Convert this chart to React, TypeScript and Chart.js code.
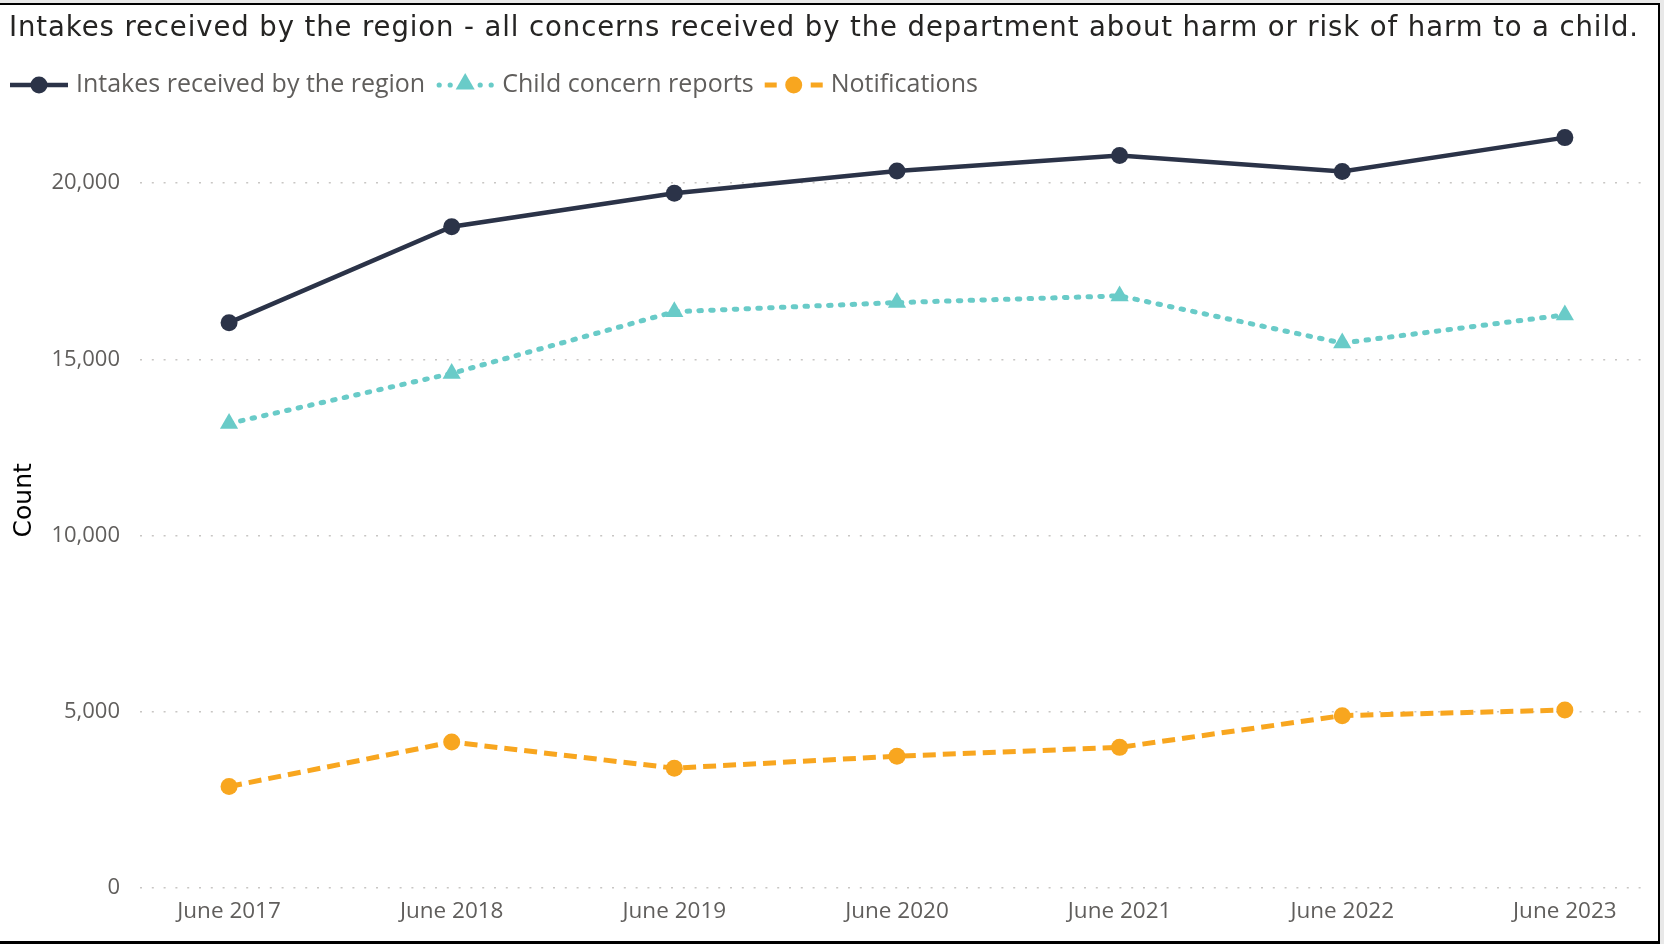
import React, { useEffect, useRef } from "react";
import { Chart, registerables } from "chart.js";

Chart.register(...registerables);

const TITLE =
  "Intakes received by the region - all concerns received by the department about harm or risk of harm to a child.";
const categories = ["June 2017", "June 2018", "June 2019", "June 2020", "June 2021", "June 2022", "June 2023"];
const seriesNames = ["Intakes received by the region", "Child concern reports", "Notifications"];
const intakes = [16040, 18760, 19710, 20340, 20780, 20330, 21290];
const childConcernReports = [13180, 14600, 16350, 16610, 16800, 15460, 16260];
const notifications = [2880, 4140, 3400, 3740, 3990, 4890, 5050];
const yTickValues = [0, 5000, 10000, 15000, 20000];
const yAxisTitle = "Count";

const NAVY = "#2B3348";
const TEAL = "#69CBC8";
const ORANGE = "#F8A61F";
const TICK_COLOR = "#605E5C";
const W = 1658;
const H = 936;

function drawTriangle(ctx: CanvasRenderingContext2D, x: number, y: number, r: number, color: string) {
  ctx.beginPath();
  ctx.moveTo(x, y - r);
  ctx.lineTo(x + r * 0.866, y + r * 0.5);
  ctx.lineTo(x - r * 0.866, y + r * 0.5);
  ctx.closePath();
  ctx.fillStyle = color;
  ctx.fill();
}

function drawSymbol(ctx: CanvasRenderingContext2D, kind: number, x: number, y: number) {
  const w = 58;
  const cx = x + w / 2;
  ctx.save();
  if (kind === 0) {
    ctx.strokeStyle = NAVY;
    ctx.lineWidth = 4.5;
    ctx.beginPath();
    ctx.moveTo(x, y);
    ctx.lineTo(x + w, y);
    ctx.stroke();
    ctx.fillStyle = NAVY;
    ctx.beginPath();
    ctx.arc(cx, y, 8.5, 0, Math.PI * 2);
    ctx.fill();
  } else if (kind === 1) {
    ctx.fillStyle = TEAL;
    [x + 3, x + 14, x + w - 14, x + w - 3].forEach((dx) => {
      ctx.beginPath();
      ctx.arc(dx, y, 2.6, 0, Math.PI * 2);
      ctx.fill();
    });
    drawTriangle(ctx, cx, y - 1, 11, TEAL);
  } else {
    ctx.strokeStyle = ORANGE;
    ctx.lineWidth = 5;
    ctx.beginPath();
    ctx.moveTo(x, y);
    ctx.lineTo(x + 12, y);
    ctx.moveTo(x + w - 12, y);
    ctx.lineTo(x + w, y);
    ctx.stroke();
    ctx.fillStyle = ORANGE;
    ctx.beginPath();
    ctx.arc(cx, y, 8.5, 0, Math.PI * 2);
    ctx.fill();
  }
  ctx.restore();
}

const headerPlugin = {
  id: "header",
  afterDraw(chart: any) {
    const ctx: any = chart.ctx;
    ctx.save();
    // Title
    ctx.font = "27.5px 'DejaVu Sans'";
    ctx.fillStyle = "#252423";
    ctx.textAlign = "left";
    ctx.textBaseline = "alphabetic";
    const target = 1629;
    const natural = ctx.measureText(TITLE).width;
    const spacing = Math.max(0, (target - natural) / (TITLE.length - 1));
    if ("letterSpacing" in ctx) ctx.letterSpacing = spacing.toFixed(2) + "px";
    ctx.fillText(TITLE, 9, 31);
    if ("letterSpacing" in ctx) ctx.letterSpacing = "0px";

    // Legend
    ctx.font = "25px 'Open Sans'";
    ctx.textBaseline = "middle";
    const y = 80;
    let x = 10;
    chart.data.datasets.forEach((ds: any, i: number) => {
      drawSymbol(ctx, i, x, y);
      const tx = x + 66;
      ctx.fillStyle = TICK_COLOR;
      ctx.fillText(ds.label, tx, y);
      x = tx + ctx.measureText(ds.label).width + 11;
    });
    ctx.restore();
  },
};

export default function App() {
  const ref = useRef<HTMLCanvasElement | null>(null);

  useEffect(() => {
    if (!ref.current) return;
    const toPts = (arr: number[]) => arr.map((v, i) => ({ x: i, y: v }));
    const chart = new Chart(ref.current, {
      type: "line",
      data: {
        datasets: [
          {
            label: seriesNames[0],
            data: toPts(intakes),
            borderColor: NAVY,
            backgroundColor: NAVY,
            borderWidth: 4.5,
            pointRadius: 8.5,
            pointBorderWidth: 0,
            pointStyle: "circle",
            tension: 0,
          },
          {
            label: seriesNames[1],
            data: toPts(childConcernReports),
            borderColor: TEAL,
            backgroundColor: TEAL,
            borderWidth: 5,
            borderDash: [2.5, 9.3],
            borderCapStyle: "round",
            pointRadius: 10.5,
            pointBorderWidth: 0,
            pointStyle: "triangle",
            tension: 0,
          },
          {
            label: seriesNames[2],
            data: toPts(notifications),
            borderColor: ORANGE,
            backgroundColor: ORANGE,
            borderWidth: 5,
            borderDash: [13, 7],
            borderCapStyle: "butt",
            pointRadius: 8.5,
            pointBorderWidth: 0,
            pointStyle: "circle",
            tension: 0,
          },
        ],
      },
      options: {
        responsive: false,
        animation: false,
        devicePixelRatio: 1,
        events: [],
        layout: { padding: { left: 9, right: W - 1645, top: 107.6, bottom: 0 } },
        plugins: {
          legend: { display: false },
          tooltip: { enabled: false },
          title: { display: false },
        },
        scales: {
          x: {
            type: "linear",
            min: -0.4,
            max: 6.36,
            afterBuildTicks: (axis: any) => {
              axis.ticks = categories.map((_, i) => ({ value: i }));
            },
            afterFit: (axis: any) => {
              axis.height = 53;
            },
            grid: { display: false, drawTicks: false },
            border: { display: false },
            ticks: {
              padding: 10,
              color: TICK_COLOR,
              autoSkip: false,
              maxRotation: 0,
              font: { family: "'Open Sans', sans-serif", size: 22.5 },
              callback: (v: any) => categories[Math.round(Number(v))] ?? "",
            },
          },
          y: {
            min: 0,
            max: 22000,
            afterBuildTicks: (axis: any) => {
              axis.ticks = yTickValues.map((v) => ({ value: v }));
            },
            afterFit: (axis: any) => {
              axis.width = 131;
            },
            grid: { color: "#C8C6C4", lineWidth: 1.5, drawTicks: false },
            border: { display: false, dash: [2, 9.8] },
            ticks: {
              padding: 20,
              color: TICK_COLOR,
              font: { family: "'Open Sans', sans-serif", size: 22 },
              callback: (v: any) => Number(v).toLocaleString("en-US"),
            },
            title: {
              display: true,
              text: yAxisTitle,
              color: "#000000",
              font: { family: "'DejaVu Sans', sans-serif", size: 25 },
              padding: 0,
            },
          },
        },
      },
      plugins: [headerPlugin],
    } as any);
    return () => chart.destroy();
  }, []);

  return (
    <div style={{ position: "fixed", left: 0, top: 0, width: 1664, height: 944, background: "#E8E8E8" }}>
      <div
        style={{
          position: "absolute",
          left: 0,
          top: 3,
          width: 1660,
          height: 941,
          boxSizing: "border-box",
          background: "#FFFFFF",
          borderTop: "2px solid #000",
          borderRight: "2px solid #000",
          borderBottom: "3px solid #000",
        }}
      >
        <canvas ref={ref} width={W} height={H} style={{ display: "block", width: W, height: H }} />
      </div>
    </div>
  );
}
